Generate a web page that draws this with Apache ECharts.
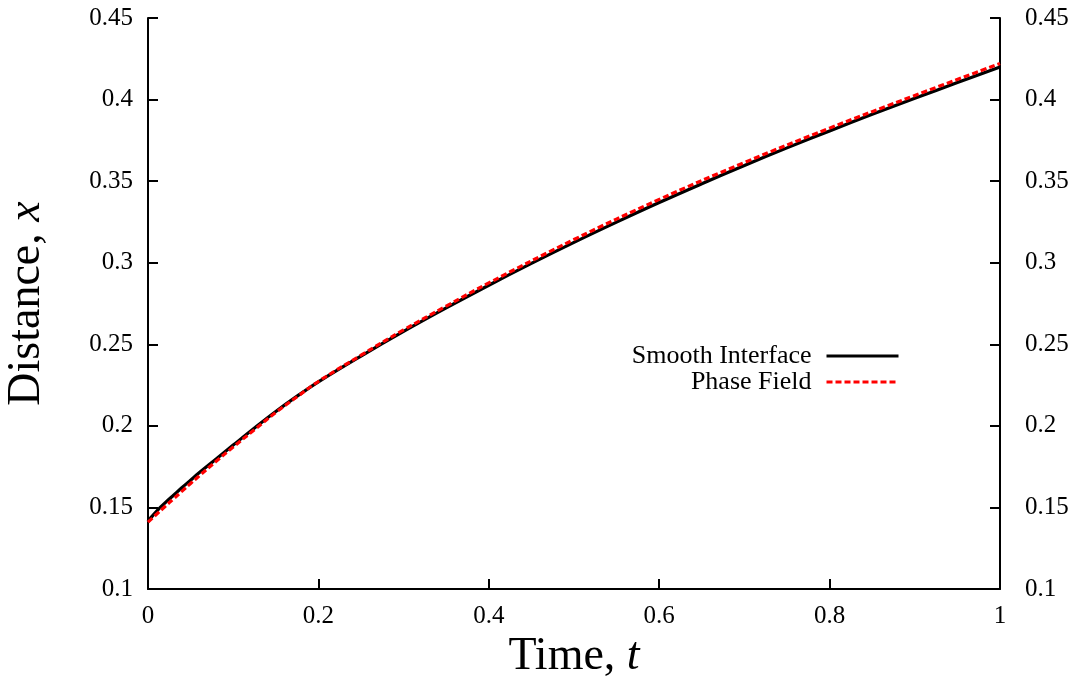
<!DOCTYPE html>
<html>
<head>
<meta charset="utf-8">
<script src="https://cdn.jsdelivr.net/npm/echarts@6/dist/echarts.min.js"></script>
<style>
html,body{margin:0;padding:0;background:#fff;}
#chart{width:1076px;height:679px;}
</style>
</head>
<body>
<div id="chart"></div>
<script>
// Smooth Interface (black, solid)
var tSmooth = [0, 0.002, 0.005, 0.01, 0.015, 0.02, 0.03, 0.04, 0.05, 0.06, 0.08, 0.1, 0.125, 0.15, 0.175, 0.2, 0.25, 0.3, 0.35, 0.4, 0.45, 0.5, 0.55, 0.6, 0.65, 0.7, 0.75, 0.8, 0.85, 0.9, 0.95, 1.0];
var xSmooth = [0.1412, 0.1428, 0.1447, 0.1476, 0.1503, 0.1528, 0.1575, 0.1622, 0.1667, 0.1712, 0.1797, 0.1882, 0.1987, 0.2088, 0.2182, 0.2270, 0.2428, 0.2579, 0.2723, 0.2862, 0.2996, 0.3125, 0.3249, 0.3369, 0.3484, 0.3596, 0.3704, 0.3808, 0.3910, 0.4008, 0.4104, 0.4200];
// Phase Field (red, dashed)
var tPhase = [0, 0.01, 0.02, 0.03, 0.04, 0.05, 0.06, 0.08, 0.1, 0.125, 0.15, 0.175, 0.2, 0.25, 0.3, 0.35, 0.4, 0.5, 0.6, 0.7, 0.8, 0.9, 1.0];
var xPhase = [0.1410, 0.1458, 0.1506, 0.1553, 0.1600, 0.1647, 0.1693, 0.1783, 0.1870, 0.1977, 0.2082, 0.2178, 0.2272, 0.2433, 0.2588, 0.2734, 0.2876, 0.3142, 0.3388, 0.3614, 0.3825, 0.4025, 0.4221];
var seriesNames = ['Smooth Interface', 'Phase Field'];
var xTitle = 'Time, {i|t}';
var yTitle = 'Distance, {i|x}';

function pairs(a, b) { return a.map(function (v, i) { return [v, b[i]]; }); }

var FONT = 'Liberation Serif';
var chart = echarts.init(document.getElementById('chart'), null, {renderer: 'canvas'});
var axisLine = {show: true, lineStyle: {color: '#000', width: 2}};
var axisTick = {show: true, inside: true, length: 10, lineStyle: {color: '#000', width: 2}};
var labelStyle = {color: '#000', fontFamily: FONT, fontSize: 25};

function legendFor(name, top) {
  return {
    data: [name], orient: 'vertical', right: 176, top: top, padding: 0,
    align: 'right', itemWidth: 72, itemHeight: 14, selectedMode: false,
    itemStyle: {opacity: 0, borderWidth: 0},
    lineStyle: {width: 3},
    textStyle: {color: '#000', fontFamily: FONT, fontSize: 26, lineHeight: 26, padding: [0, 10, 0, 0]}
  };
}

var option = {
  animation: false,
  backgroundColor: '#fff',
  grid: {left: 148, right: 76, top: 18, bottom: 90, containLabel: false, outerBoundsMode: 'none'},
  legend: [legendFor(seriesNames[0], 343), legendFor(seriesNames[1], 369)],
  xAxis: {
    type: 'value', min: 0, max: 1, interval: 0.2,
    axisLine: axisLine, axisTick: axisTick, splitLine: {show: false},
    axisLabel: Object.assign({margin: 15}, labelStyle),
    name: xTitle, nameLocation: 'middle', nameGap: 41,
    nameTextStyle: {color: '#000', fontFamily: FONT, fontSize: 46, verticalAlign: 'top',
      rich: {i: {fontFamily: FONT, fontSize: 46, fontStyle: 'italic', color: '#000', verticalAlign: 'top'}}}
  },
  yAxis: [
    {
      type: 'value', min: 0.1, max: 0.45, interval: 0.05, position: 'left',
      axisLine: axisLine, axisTick: axisTick, splitLine: {show: false},
      axisLabel: Object.assign({margin: 15}, labelStyle),
      name: yTitle, nameLocation: 'middle', nameGap: 98,
      nameTextStyle: {color: '#000', fontFamily: FONT, fontSize: 46,
        rich: {i: {fontFamily: FONT, fontSize: 46, fontStyle: 'italic', color: '#000'}}}
    },
    {
      type: 'value', min: 0.1, max: 0.45, interval: 0.05, position: 'right',
      axisLine: axisLine, axisTick: axisTick, splitLine: {show: false},
      axisLabel: Object.assign({margin: 25}, labelStyle)
    }
  ],
  series: [
    {
      name: seriesNames[0], type: 'line', symbol: 'none', smooth: 0.4, yAxisIndex: 0,
      data: pairs(tSmooth, xSmooth), z: 2,
      lineStyle: {color: '#000', width: 3.2, type: 'solid'}, itemStyle: {color: '#000'}
    },
    {
      name: seriesNames[1], type: 'line', symbol: 'none', smooth: 0.4, yAxisIndex: 0,
      data: pairs(tPhase, xPhase), z: 3,
      lineStyle: {color: '#ff0000', width: 3.2, type: [6, 3]}, itemStyle: {color: '#ff0000'}
    }
  ]
};
chart.setOption(option);
</script>
</body>
</html>
